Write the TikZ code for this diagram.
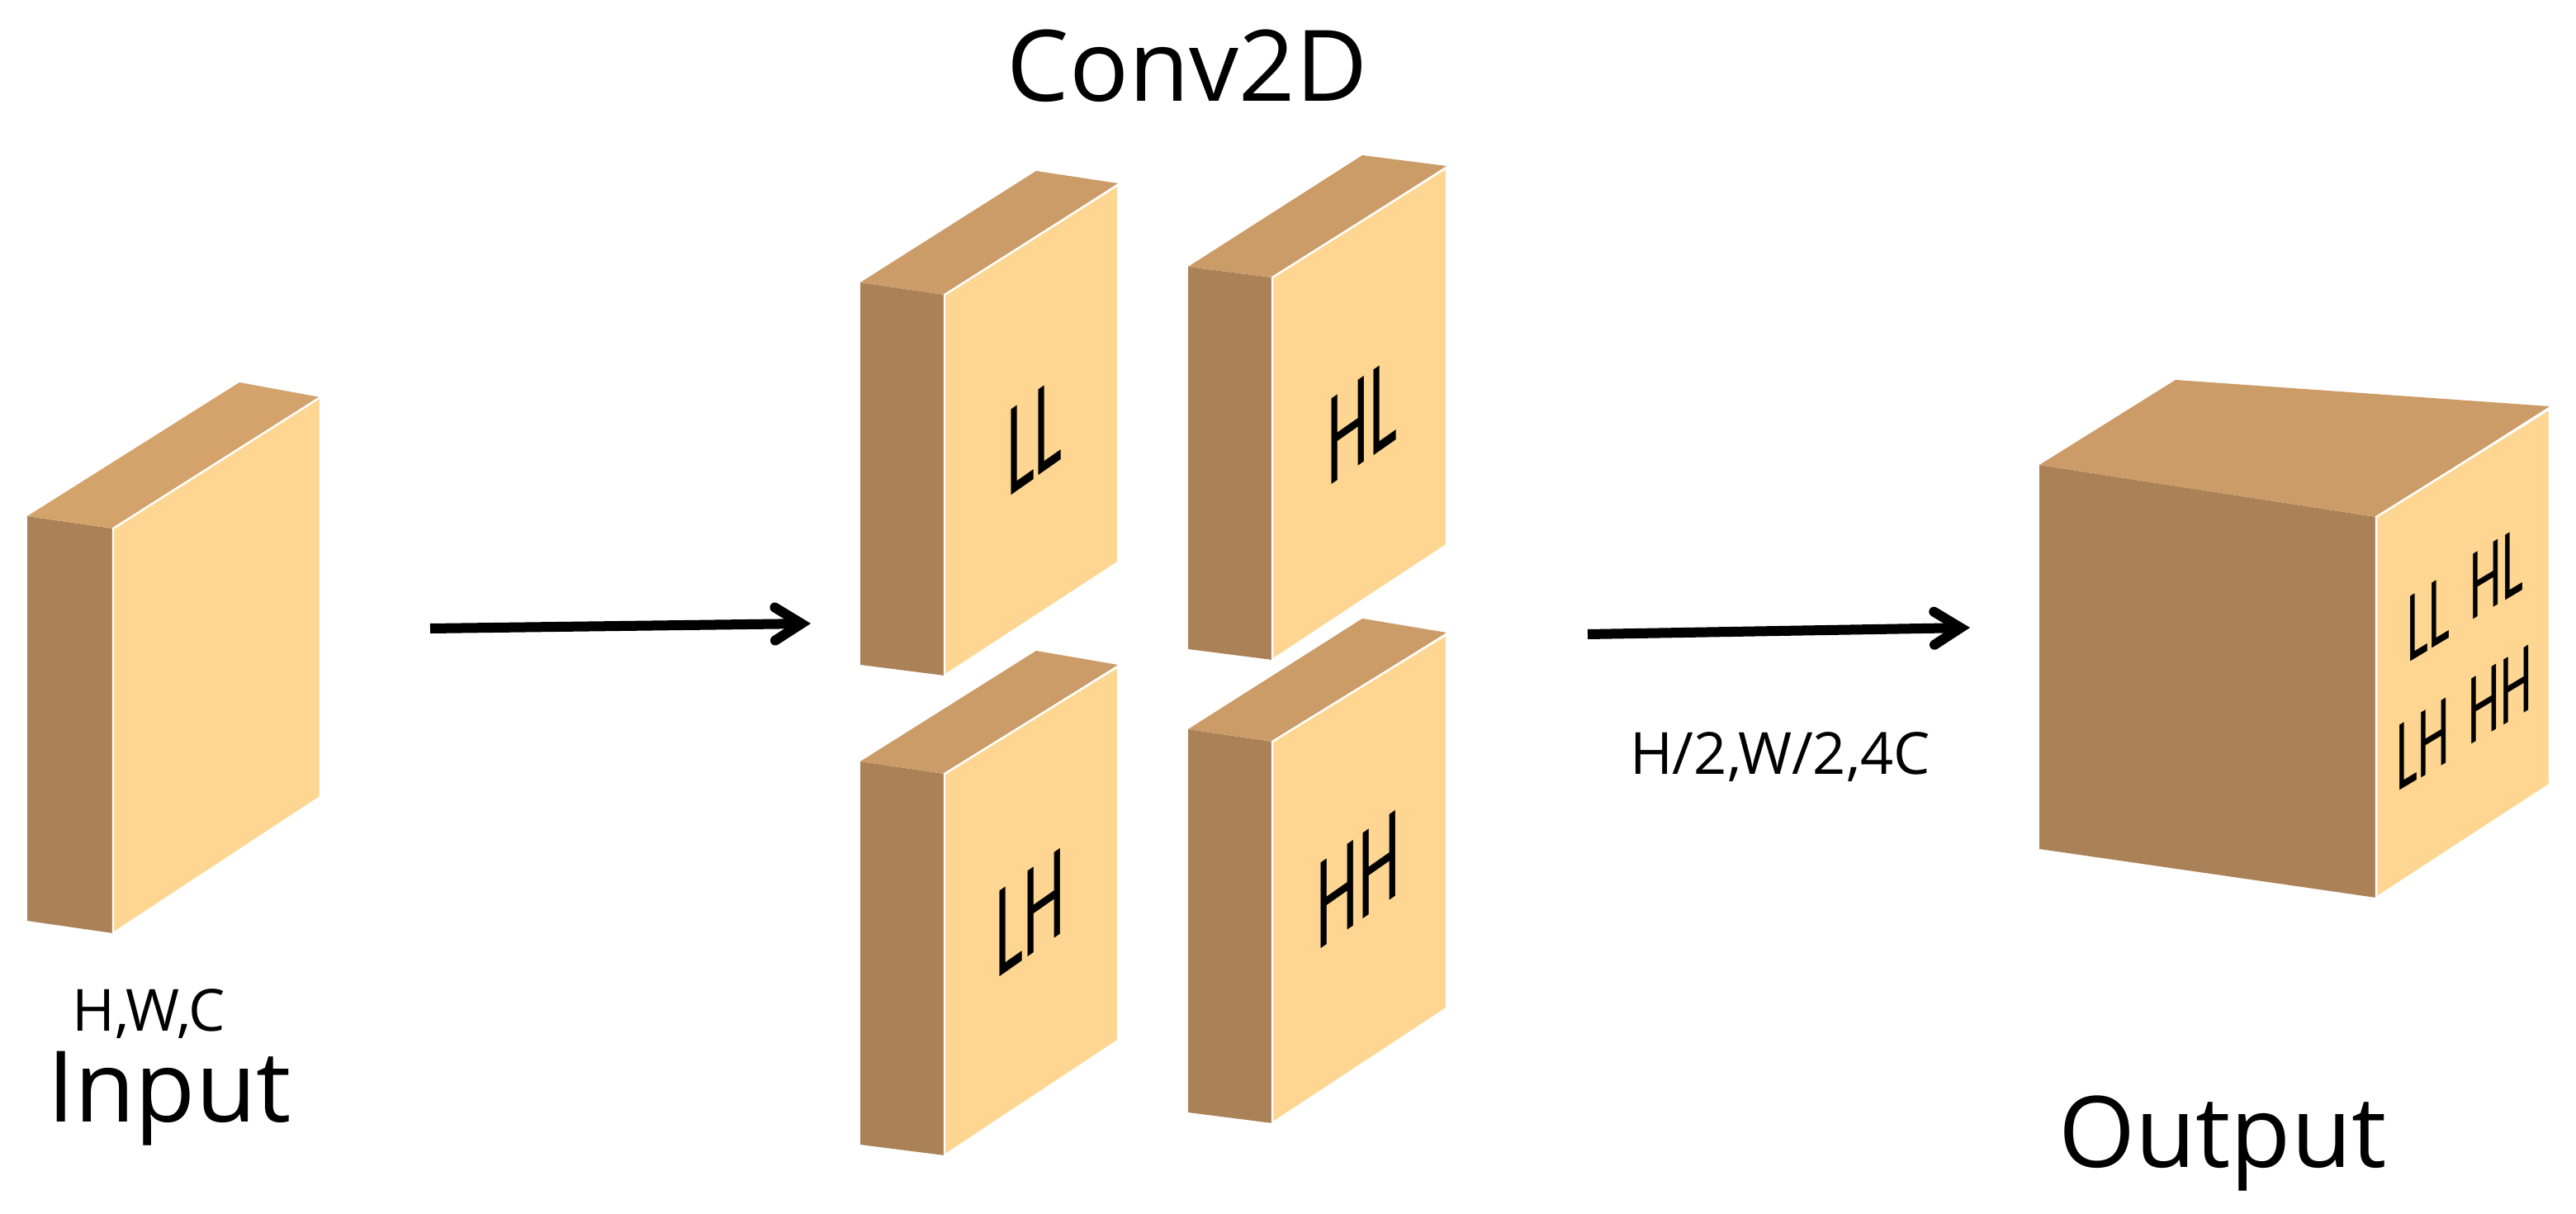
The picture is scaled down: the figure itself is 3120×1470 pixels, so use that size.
\documentclass[tikz,border=0pt]{standalone}
\usepackage{fontspec}
\setmainfont{Open Sans}
\newfontfamily\labelfont{Carlito}
\usetikzlibrary{arrows.meta}
\definecolor{lightc}{RGB}{254,214,146}
\definecolor{darkc}{RGB}{171,130,87}
\definecolor{topc}{RGB}{203,155,104}
\definecolor{topin}{RGB}{212,163,108}
\newcommand{\flabel}[7]{\begin{scope}[shift={(#2,#3)}]\node[facetext, cm={#7,#4,0,1,(0,0)}, font=\labelfont\fontsize{#5}{#5}\selectfont] (#1) at (0,0) {#6};\end{scope}}
\begin{document}
\begin{tikzpicture}[x=0.01cm,y=-0.01cm,
  lightface/.style={fill=lightc, draw=white, line width=0.7pt, line join=round},
  darkface/.style={fill=darkc},
  topface/.style={fill=topc},
  facetext/.style={inner sep=0pt, text=black},
  bigtext/.style={font=\fontsize{34}{40}\selectfont, inner sep=0pt, anchor=base},
  smalltext/.style={font=\fontsize{20}{24}\selectfont, inner sep=0pt, anchor=base},
  arr/.style={line width=0.12cm, -{Straight Barb[length=0.32cm,width=0.40cm,line cap=round]}}]
\useasboundingbox (0,0) rectangle (3120,1470);
% input block
\fill[darkface] (33,625) -- (137,640) -- (137,1130) -- (33,1115) -- cycle;
\fill[fill=topin] (33,625) -- (290,463) -- (388,481) -- (137,640) -- cycle;
\filldraw[lightface] (137,640) -- (388,481) -- (388,965) -- (137,1130) -- cycle;
% LL
\fill[darkface] (1042,342) -- (1144,357) -- (1144,818) -- (1042,805) -- cycle;
\fill[topface] (1042,342) -- (1255,207) -- (1354,222) -- (1144,357) -- cycle;
\filldraw[lightface] (1144,357) -- (1354,224) -- (1354,681) -- (1144,818) -- cycle;
% HL
\fill[darkface] (1439,323) -- (1541,336) -- (1541,799) -- (1439,786) -- cycle;
\fill[topface] (1439,323) -- (1650,188) -- (1752,201) -- (1541,336) -- cycle;
\filldraw[lightface] (1541,336) -- (1752,203) -- (1752,660) -- (1541,799) -- cycle;
% LH
\fill[darkface] (1042,922) -- (1144,937) -- (1144,1399) -- (1042,1386) -- cycle;
\fill[topface] (1042,922) -- (1255,788) -- (1354,805) -- (1144,937) -- cycle;
\filldraw[lightface] (1144,937) -- (1354,807) -- (1354,1260) -- (1144,1399) -- cycle;
% HH
\fill[darkface] (1439,883) -- (1541,898) -- (1541,1360) -- (1439,1347) -- cycle;
\fill[topface] (1439,883) -- (1650,749) -- (1752,766) -- (1541,898) -- cycle;
\filldraw[lightface] (1541,898) -- (1752,768) -- (1752,1221) -- (1541,1360) -- cycle;
% output cube
\fill[darkface] (2470,563) -- (2878,626) -- (2878,1087) -- (2470,1028) -- cycle;
\fill[topface] (2470,563) -- (2635,460) -- (3088,492) -- (2878,626) -- cycle;
\filldraw[lightface] (2878,626) -- (3088,495) -- (3088,950) -- (2878,1087) -- cycle;
% face labels
\flabel{ll}{1253}{528}{0.35}{46}{LL}{0.5}
\flabel{hl}{1650}{509}{0.35}{46}{HL}{0.5}
\flabel{lh}{1248}{1105}{0.35}{46}{LH}{0.5}
\flabel{hh}{1645}{1065}{0.35}{46}{HH}{0.5}
\flabel{oll}{2941}{748}{0.3}{35}{LL}{0.5}
\flabel{ohl}{3024}{694}{0.3}{35}{HL}{0.5}
\flabel{olh}{2935}{901}{0.3}{35}{LH}{0.5}
\flabel{ohh}{3028}{841}{0.3}{35}{HH}{0.5}
% texts
\node[bigtext] (conv) at (1438,123) {Conv2D};
\node[smalltext] (hwc) at (180,1248) {H,W,C};
\node[bigtext] (input) at (205,1358) {Input};
\node[bigtext] (output) at (2692,1413) {Output};
\node[smalltext] (hw4c) at (2156,937) {H/2,W/2,4C};
% arrows
\coordinate (a1s) at (521,761);
\coordinate (a1e) at (982,755);
\coordinate (a2s) at (1923,768);
\coordinate (a2e) at (2386,760);
\draw[arr] (a1s) -- (a1e);
\draw[arr] (a2s) -- (a2e);
\end{tikzpicture}
\end{document}
